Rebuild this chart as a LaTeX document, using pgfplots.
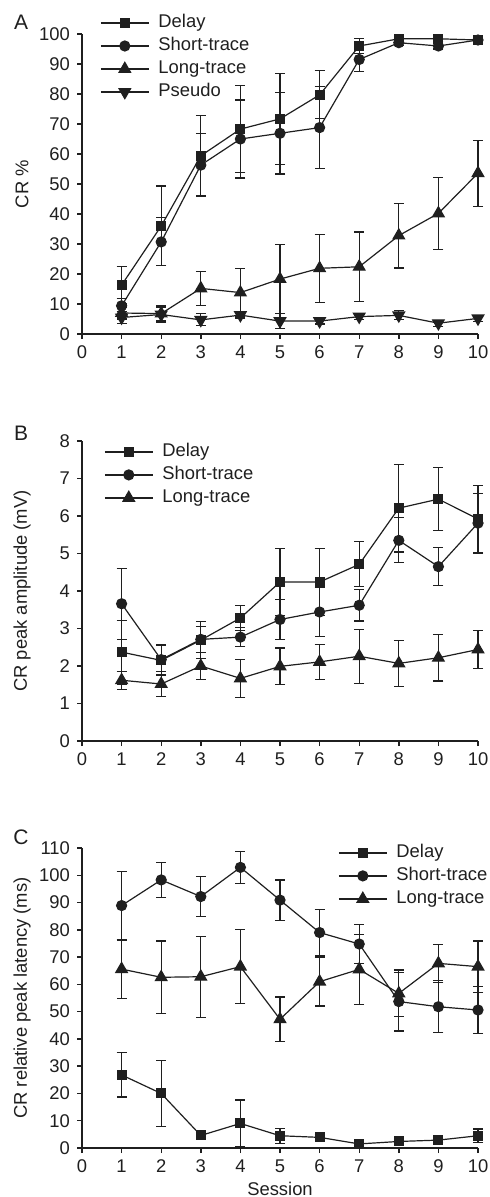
\documentclass[border=0pt]{standalone}
\usepackage{pgfplots}
\pgfplotsset{compat=1.18}
\usepackage{fontspec}
\setmainfont{Liberation Sans}
\definecolor{ink}{HTML}{1F1F1F}

\pgfplotsset{
  panel/.style={
    scale only axis, width=198pt, height=150pt,
    axis lines=left, axis line style={-, line width=0.8pt, ink},
    xmin=0, xmax=10, xtick={0,...,10}, ymin=0,
    tick align=outside, major tick length=2.5pt,
    tick style={line width=0.7pt, ink},
    every tick label/.append style={font=\fontsize{9.2}{10}\selectfont, text=ink},
    /pgf/number format/assume math mode=true,
    clip=false,
    ylabel style={at={(axis description cs:-0.1515,0.5)}, anchor=center,
      font=\fontsize{9.2}{10}\selectfont, text=ink},
    legend style={draw=none, fill=none, font=\fontsize{9.2}{10}\selectfont,
      text=ink, row sep=1.0pt, inner sep=0pt,
      nodes={inner sep=1pt, text height=6.6pt, text depth=1.9pt},
      /tikz/every odd column/.append style={column sep=3.5pt}},
    legend cell align=left,
    legend image code/.code={\draw[mark repeat=2,mark phase=2,##1]
      plot coordinates {(0pt,0pt)(12pt,0pt)(24pt,0pt)};},
    every axis plot/.append style={ink, line width=0.6pt},
    error bars/error bar style={line width=0.6pt, ink},
    error bars/error mark options={rotate=90, mark size=2.5pt, line width=0.6pt, ink},
  },
  sq/.style={mark=square*, mark size=2.2pt},
  ci/.style={mark=*, mark size=2.5pt},
  tu/.style={mark=triangle*, mark size=3.3pt},
  td/.style={mark=triangle*, mark size=3.3pt, mark options={rotate=180}},
  eb/.style={/pgfplots/error bars/y dir=both, /pgfplots/error bars/y explicit},
}

\begin{document}
\begin{tikzpicture}
\useasboundingbox (0,0) rectangle (244.5pt,-598.5pt);

% ---------- A ----------
\begin{axis}[panel, at={(41pt,-167pt)}, anchor=south west,
  ymax=100, ytick={0,10,...,100}, ylabel={CR \%},
  legend style={at={(axis description cs:0.045,1.073)}, anchor=north west}]
\addplot[sq, eb] table[y error=e] {
x y e
1 16.3 6.3
2 36.0 13.3
3 59.4 13.3
4 68.3 14.4
5 71.7 15.2
6 79.7 8.0
7 96.0 2.5
8 98.4 1.0
9 98.4 1.0
10 98.0 1.0
};
\addlegendentry{Delay}
\addplot[ci, eb] table[y error=e] {
x y e
1 9.4 2.5
2 30.7 8.0
3 56.3 10.4
4 65.0 13.0
5 66.9 13.6
6 68.8 13.6
7 91.5 4.0
8 97.1 1.0
9 96.0 1.0
10 98.0 1.0
};
\addlegendentry{Short-trace}
\addplot[tu, eb] table[y error=e] {
x y e
1 7.0 2.0
2 6.8 2.5
3 15.2 5.7
4 13.8 8.0
5 18.3 11.5
6 21.9 11.3
7 22.4 11.6
8 32.8 10.8
9 40.2 12.0
10 53.6 11.0
};
\addlegendentry{Long-trace}
\addplot[td, eb] table[y error=e] {
x y e
1 5.5 2.0
2 6.5 2.5
3 4.7 2.0
4 6.3 1.0
5 4.3 2.5
6 4.3 1.0
7 5.8 1.0
8 6.2 1.5
9 3.6 1.0
10 5.2 1.0
};
\addlegendentry{Pseudo}
\node[font=\fontsize{10.5}{12}\selectfont, text=ink] at (axis description cs:-0.154,1.04) {A};
\end{axis}

% ---------- B ----------
\begin{axis}[panel, at={(41pt,-370.5pt)}, anchor=south west,
  ymax=8, ytick={0,...,8}, ylabel={CR peak amplitude (mV)},
  legend style={at={(axis description cs:0.055,1.0)}, anchor=north west}]
\addplot[sq, eb] table[y error=e] {
x y e
1 2.37 0.85
2 2.15 0.40
3 2.69 0.50
4 3.28 0.33
5 4.24 0.90
6 4.24 0.90
7 4.71 0.60
8 6.21 1.17
9 6.45 0.84
10 5.92 0.90
};
\addlegendentry{Delay}
\addplot[ci, eb] table[y error=e] {
x y e
1 3.66 0.95
2 2.17 0.40
3 2.71 0.35
4 2.77 0.25
5 3.24 0.54
6 3.44 0.65
7 3.62 0.42
8 5.35 0.60
9 4.65 0.50
10 5.81 0.80
};
\addlegendentry{Short-trace}
\addplot[tu, eb] table[y error=e] {
x y e
1 1.62 0.24
2 1.52 0.33
3 2.00 0.37
4 1.67 0.51
5 1.99 0.49
6 2.11 0.47
7 2.26 0.72
8 2.07 0.62
9 2.22 0.62
10 2.44 0.50
};
\addlegendentry{Long-trace}
\node[font=\fontsize{10.5}{12}\selectfont, text=ink] at (axis description cs:-0.154,1.027) {B};
\end{axis}

% ---------- C ----------
\begin{axis}[panel, at={(41pt,-574pt)}, anchor=south west,
  ymax=110, ytick={0,10,...,110}, ylabel={CR relative peak latency (ms)},
  xlabel={Session},
  xlabel style={at={(axis description cs:0.5,-0.137)}, anchor=center,
    font=\fontsize{9.2}{10}\selectfont, text=ink},
  legend style={at={(axis description cs:0.646,1.02)}, anchor=north west}]
\addplot[sq, eb] table[y error=e] {
x y e
1 26.8 8.1
2 20.0 12.1
3 4.6 1.0
4 9.0 8.6
5 4.5 2.8
6 3.9 1.0
7 1.5 0.5
8 2.4 0.8
9 2.9 0.8
10 4.5 2.5
};
\addlegendentry{Delay}
\addplot[ci, eb] table[y error=e] {
x y e
1 88.9 12.4
2 98.3 6.3
3 92.2 7.3
4 102.9 5.8
5 90.9 7.4
6 79.0 8.6
7 74.8 7.2
8 53.7 10.8
9 51.8 9.5
10 50.6 8.5
};
\addlegendentry{Short-trace}
\addplot[tu, eb] table[y error=e] {
x y e
1 65.6 10.7
2 62.6 13.3
3 62.8 14.8
4 66.5 13.5
5 47.2 8.2
6 61.0 8.9
7 65.5 12.8
8 56.7 8.6
9 67.7 7.0
10 66.5 9.4
};
\addlegendentry{Long-trace}
\node[font=\fontsize{10.5}{12}\selectfont, text=ink] at (axis description cs:-0.154,1.037) {C};
\end{axis}
\end{tikzpicture}
\end{document}
